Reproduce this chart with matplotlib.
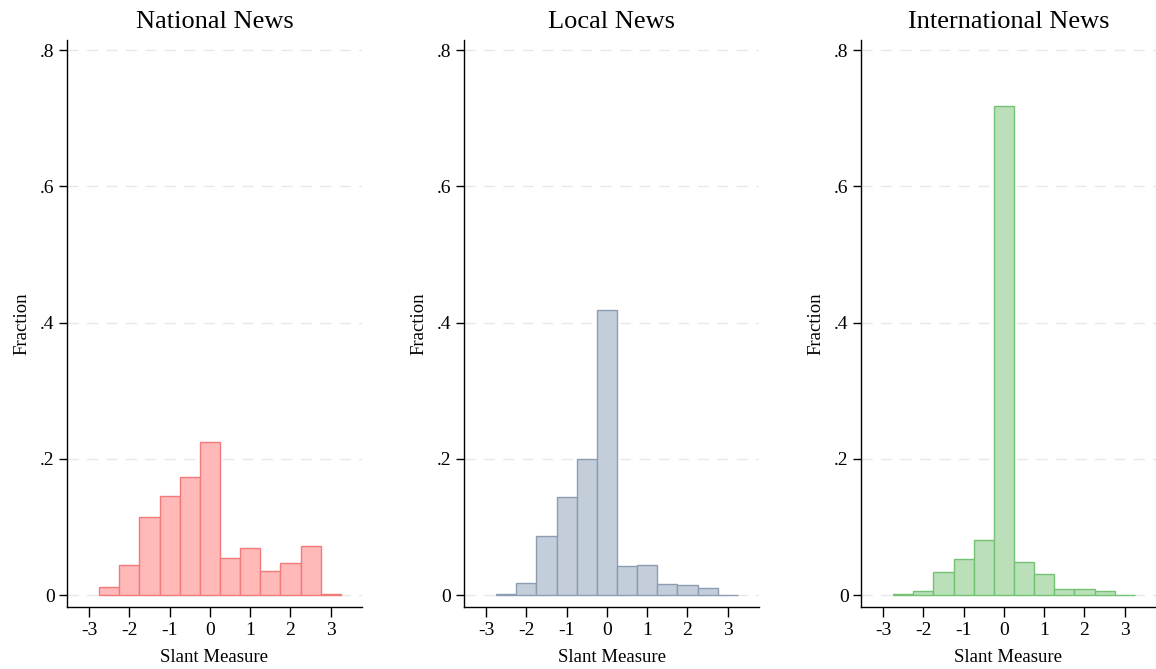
import matplotlib
matplotlib.use("Agg")
import matplotlib.pyplot as plt
import numpy as np

plt.rcParams['font.family'] = ['Liberation Serif', 'DejaVu Serif']

bin_centers = [-2.5, -2.0, -1.5, -1.0, -0.5, 0.0, 0.5, 1.0, 1.5, 2.0, 2.5, 3.0]
bin_width = 0.5

national = [0.0113, 0.0435, 0.1144, 0.146, 0.1736, 0.224, 0.0538, 0.0685, 0.0357, 0.0465, 0.0719, 0.0015]
local = [0.001, 0.017, 0.0866, 0.1434, 0.200, 0.419, 0.0426, 0.0435, 0.0161, 0.0142, 0.0098, 0.0005]
international = [0.0017, 0.006, 0.0336, 0.0529, 0.0804, 0.7185, 0.0485, 0.0309, 0.0088, 0.0088, 0.006, 0.0006]

titles = ["National News", "Local News", "International News"]
series = [national, local, international]
fills = ["#FFB9B9", "#C3CEDA", "#BADFB9"]
edges = ["#F47A7A", "#8C9DB2", "#74C274"]

xticks = [-3, -2, -1, 0, 1, 2, 3]
yticks = [0, 0.2, 0.4, 0.6, 0.8]
ytick_labels = ["0", ".2", ".4", ".6", ".8"]

W, H = 1156, 669
fig = plt.figure(figsize=(W / 100, H / 100), dpi=100)

lefts = [67, 464, 861]
ax_w = 295
ax_top, ax_bot = 40, 607

for i in range(3):
    ax = fig.add_axes([lefts[i] / W, 1 - ax_bot / H, ax_w / W, (ax_bot - ax_top) / H])
    ax.bar(bin_centers, series[i], width=bin_width, color=fills[i],
           edgecolor=edges[i], linewidth=1.0, zorder=3)
    ax.set_xlim(-3.546, 3.776)
    ax.set_ylim(-0.0176, 0.8147)
    ax.set_xticks(xticks)
    ax.set_xticklabels([str(t) for t in xticks])
    ax.set_yticks(yticks)
    ax.set_yticklabels(ytick_labels)
    for y in yticks:
        ax.axhline(y, color="#E8E8E8", linewidth=1.0, linestyle=(0, (8, 6)), zorder=1)
    for s in ["top", "right"]:
        ax.spines[s].set_visible(False)
    for s in ["left", "bottom"]:
        ax.spines[s].set_linewidth(1.0)
        ax.spines[s].set_color("black")
    ax.tick_params(axis="y", direction="out", length=6, width=1.0, labelsize=14, pad=3)
    ax.tick_params(axis="x", direction="out", length=7, width=1.0, labelsize=14, pad=4)
    ax.set_title(titles[i], fontsize=19, pad=9)
    ax.set_ylabel("Fraction", fontsize=13.5, labelpad=7)
    ax.set_xlabel("Slant Measure", fontsize=13.5, labelpad=7)

fig.savefig("out.png", dpi=100)
